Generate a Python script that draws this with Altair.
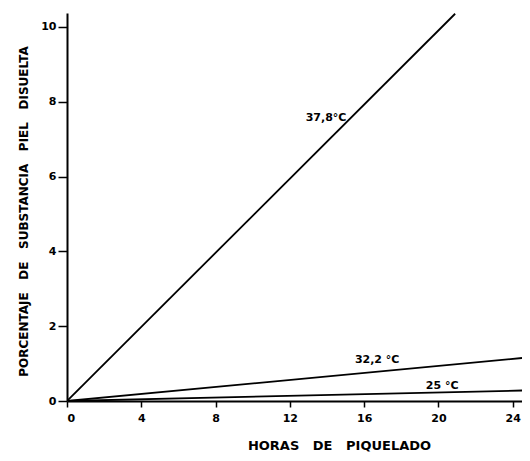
import altair as alt
import pandas as pd

# Series (temperature curves): straight lines from the origin
series = ["37,8°C", "32,2 °C", "25 °C"]
hours_start = [0, 0, 0]
pct_start = [0, 0, 0]
hours_end = [20.9, 24.5, 24.5]
pct_end = [10.35, 1.15, 0.28]

# Label positions (data coords)
label_x = [13.95, 16.7, 20.2]
label_y = [7.57, 1.10, 0.40]

x_ticks = [0, 4, 8, 12, 16, 20, 24]
y_ticks = [0, 1, 2, 3, 4, 5, 6, 7, 8, 9, 10]

rows = []
for s, x0, y0, x1, y1 in zip(series, hours_start, pct_start, hours_end, pct_end):
    rows.append({"serie": s, "horas": x0, "pct": y0})
    rows.append({"serie": s, "horas": x1, "pct": y1})
lines_df = pd.DataFrame(rows)
labels_df = pd.DataFrame({"serie": series, "horas": label_x, "pct": label_y})

NB = "\u00a0"
x_title = (NB * 3).join(["HORAS", "DE", "PIQUELADO"])
y_title = (NB * 3).join(["PORCENTAJE", "DE", "SUBSTANCIA", "PIEL", "DISUELTA"])

xscale = alt.Scale(domain=[0, 24.5], nice=False, zero=False)
yscale = alt.Scale(domain=[0, 10.37], nice=False, zero=False)

xaxis = alt.Axis(
    values=x_ticks, title=x_title, tickSize=6, labelPadding=5,
    titleFontSize=13, titleX=272, titleY=48, titleAlign="center",
    titleBaseline="alphabetic", titleAnchor="start",
)
yaxis = alt.Axis(
    values=y_ticks, title=y_title,
    labelExpr="datum.value % 2 == 0 ? datum.label : ''",
    tickSize={"condition": {"test": "datum.value % 2 == 1", "value": 3}, "value": 9},
    labelPadding=2, titleFontSize=12, titleX=-44, titleY=198,
    titleBaseline="middle", titleAlign="center", titleAngle=-90,
)

lines = alt.Chart(lines_df).mark_line(color="black", strokeWidth=1.8, clip=True).encode(
    x=alt.X("horas:Q", scale=xscale, axis=xaxis),
    y=alt.Y("pct:Q", scale=yscale, axis=yaxis),
    detail="serie:N",
)

labels = alt.Chart(labels_df).mark_text(
    font="DejaVu Sans", fontWeight="bold", fontSize=11, color="black",
    align="center", baseline="middle",
).encode(
    x=alt.X("horas:Q", scale=xscale),
    y=alt.Y("pct:Q", scale=yscale),
    text="serie:N",
)

chart = (
    alt.layer(lines, labels)
    .properties(
        width=455, height=388,
        autosize=alt.AutoSizeParams(type="none"),
        padding={"left": 59, "top": 5, "right": 0, "bottom": 52},
        background="white",
    )
    .configure_view(stroke=None)
    .configure_axis(
        grid=False, domainColor="black", domainWidth=2, tickColor="black",
        tickWidth=1.5, labelFont="DejaVu Sans", labelFontWeight="bold",
        labelFontSize=11, labelColor="black", titleFont="DejaVu Sans",
        titleFontWeight="bold", titleColor="black",
    )
)

chart.save("out.html", embed_options={"renderer": "svg", "actions": False})
